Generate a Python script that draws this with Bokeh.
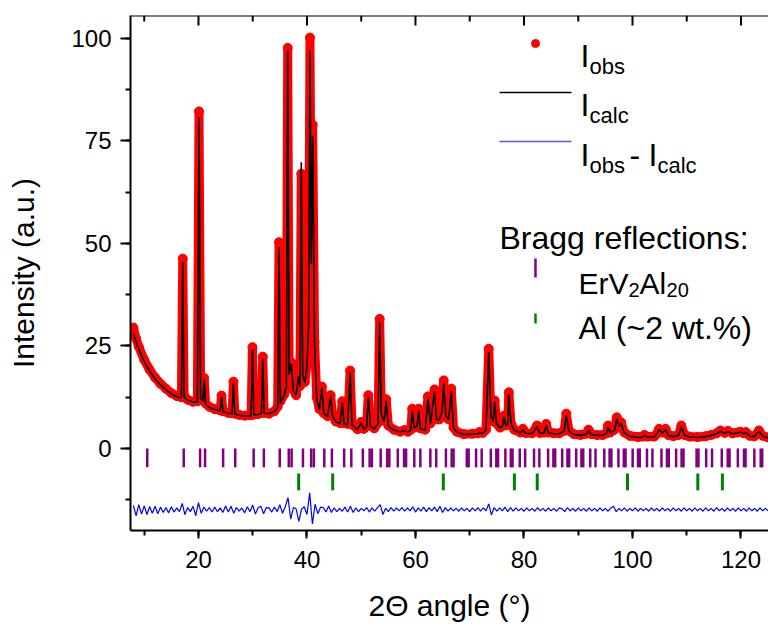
from bokeh.plotting import figure
from bokeh.models import Range1d, SingleIntervalTicker, Label, Span
from bokeh.embed import file_html
from bokeh.resources import INLINE

# ---------------- data ----------------
two_theta = [8.0, 8.5, 9.0, 10.0, 11.0, 12.0, 13.0, 14.0, 15.0, 16.0,
             16.85, 17.1, 17.35, 18.0, 19.0, 19.8, 20.1, 20.4, 20.8, 21.05,
             21.3, 22.0, 23.0, 24.0, 24.25, 24.5, 25.5, 26.2, 26.45, 26.7,
             27.5, 28.5, 29.7, 29.95, 30.2, 31.0, 31.6, 31.85, 32.1, 33.0,
             34.0, 34.6, 34.85, 35.1, 35.8, 36.2, 36.45, 36.7, 37.1, 37.5,
             38.0, 38.4, 38.7, 38.95, 39.2, 39.6, 40.0, 40.3, 40.55, 40.8,
             41.05, 41.4, 41.8, 42.3, 42.75, 43.1, 43.8, 44.35, 44.7, 45.3,
             46.1, 46.5, 46.85, 47.5, 47.95, 48.3, 49.3, 50.0, 50.5, 51.0,
             51.3, 51.7, 52.4, 53.1, 53.4, 53.7, 54.2, 54.6, 55.0, 56.0,
             57.2, 58.0, 58.6, 59.15, 59.4, 59.75, 60.3, 60.6, 60.9, 61.8,
             62.3, 62.75, 63.5, 63.9, 64.4, 64.9, 65.2, 65.6, 66.1, 66.6,
             67.0, 67.6, 68.9, 70.5, 71.5, 71.8, 72.4, 73.0, 73.5, 73.9,
             74.3, 74.6, 74.95, 75.6, 76.05, 76.3, 76.65, 77.0, 77.2, 77.6,
             78.2, 79.3, 79.8, 80.3, 81.5, 82.4, 82.9, 83.7, 84.1, 84.5,
             85.5, 86.5, 87.4, 87.8, 88.3, 89.2, 90.4, 91.5, 91.9, 92.4,
             93.5, 94.5, 95.2, 95.5, 95.9, 96.7, 97.1, 97.55, 97.9, 98.5,
             99.5, 101.0, 101.8, 102.2, 102.7, 104.0, 104.5, 104.9, 105.5, 106.1,
             106.6, 107.5, 108.5, 109.0, 109.6, 110.5, 112.0, 113.5, 114.5, 115.5,
             116.2, 117.0, 117.6, 118.4, 119.4, 119.9, 120.5, 120.9, 121.6, 122.5,
             123.3, 124.0, 125.0]

i_obs = [29.5, 26.8, 24.8, 21.6, 19.2, 17.3, 15.8, 14.6, 13.5, 12.8,
         12.5, 46.3, 12.8, 11.9, 11.4, 11.5, 82.2, 12.5, 11.8, 17.2,
         11.0, 10.2, 9.6, 9.3, 12.9, 9.1, 8.7, 8.6, 16.3, 8.5,
         8.2, 8.0, 8.1, 24.7, 8.3, 8.4, 8.7, 22.4, 8.7, 8.5,
         9.1, 10.2, 50.3, 11.5, 13.2, 15.3, 97.7, 18.5, 21.0, 14.2,
         13.0, 18.3, 15.2, 67.0, 18.5, 16.2, 20.5, 31.0, 100.2, 46.0,
         79.0, 26.0, 12.5, 9.6, 15.1, 8.6, 7.9, 13.0, 8.3, 6.6,
         6.2, 11.5, 6.2, 6.0, 19.0, 5.9, 4.7, 6.5, 4.8, 5.5,
         13.0, 5.6, 4.9, 6.3, 31.6, 8.8, 6.8, 12.0, 5.6, 4.6,
         4.1, 4.5, 4.1, 4.6, 9.7, 5.1, 5.6, 9.7, 4.9, 4.6,
         12.7, 6.1, 14.4, 7.1, 7.1, 9.2, 16.6, 8.2, 7.1, 14.6,
         5.1, 4.1, 3.5, 3.6, 3.7, 4.0, 3.8, 4.6, 24.3, 8.2,
         6.6, 11.7, 6.1, 5.1, 5.6, 8.0, 5.6, 6.1, 13.7, 6.1,
         4.6, 3.9, 4.8, 3.8, 3.7, 5.6, 3.8, 3.9, 6.0, 3.9,
         3.7, 3.7, 4.3, 8.5, 4.3, 3.5, 3.3, 3.6, 4.6, 3.5,
         3.3, 3.3, 3.7, 5.6, 3.9, 4.6, 7.6, 5.6, 6.4, 3.9,
         3.1, 2.8, 2.9, 3.3, 2.9, 2.9, 3.6, 4.8, 3.9, 4.8,
         3.3, 3.0, 3.3, 5.6, 3.3, 2.9, 2.8, 3.0, 3.3, 3.7,
         4.4, 3.8, 4.3, 3.7, 3.9, 4.1, 3.7, 4.0, 3.1, 3.0,
         4.4, 3.1, 2.7]

i_calc = [28.0, 26.0, 24.2, 21.2, 18.8, 17.0, 15.5, 14.3, 13.3, 12.6,
          12.3, 45.5, 12.6, 11.8, 11.3, 11.3, 80.8, 12.2, 11.5, 16.8,
          10.8, 10.0, 9.5, 9.2, 12.6, 9.0, 8.6, 8.5, 16.0, 8.4,
          8.1, 7.9, 8.0, 24.2, 8.2, 8.3, 8.6, 22.0, 8.6, 8.5,
          9.0, 10.0, 49.0, 11.0, 13.0, 15.0, 97.0, 18.0, 20.7, 14.0,
          13.0, 17.5, 15.0, 69.8, 18.0, 16.0, 20.0, 30.0, 97.0, 45.0,
          76.3, 25.0, 12.0, 9.5, 14.8, 8.5, 7.8, 12.7, 8.0, 6.5,
          6.0, 11.2, 6.0, 5.8, 18.6, 5.7, 4.6, 6.2, 4.7, 5.3,
          12.6, 5.4, 4.8, 6.0, 30.8, 8.5, 6.5, 11.6, 5.4, 4.5,
          4.0, 4.4, 4.0, 4.5, 9.2, 5.0, 5.5, 9.2, 4.8, 4.5,
          12.2, 6.0, 13.9, 7.0, 7.0, 9.0, 15.8, 8.0, 7.0, 14.0,
          5.0, 4.0, 3.4, 3.5, 3.6, 3.9, 3.7, 4.5, 23.5, 8.0,
          6.5, 11.3, 6.0, 5.0, 5.5, 7.7, 5.5, 6.0, 13.2, 6.0,
          4.5, 3.8, 4.6, 3.7, 3.6, 5.3, 3.7, 3.8, 5.7, 3.8,
          3.6, 3.6, 4.2, 8.1, 4.2, 3.4, 3.2, 3.5, 4.4, 3.4,
          3.2, 3.2, 3.6, 5.3, 3.8, 4.5, 7.2, 5.5, 6.1, 3.8,
          3.0, 2.7, 2.8, 3.2, 2.8, 2.8, 3.5, 4.6, 3.8, 4.6,
          3.2, 2.9, 3.2, 5.3, 3.2, 2.8, 2.7, 2.9, 3.2, 3.6,
          4.2, 3.7, 4.1, 3.6, 3.8, 4.0, 3.6, 3.9, 3.0, 2.9,
          4.2, 3.0, 2.6]

# difference curve (offset), sampled every 0.5 deg from 8.0 deg
diff_start = 8.0
diff_step = 0.5
i_diff = [-13.9, -16.4, -13.7, -16.0, -14.0, -16.1, -14.2, -15.8, -14.1, -15.9,
          -14.3, -15.6, -14.4, -15.7, -14.2, -15.5, -14.5, -15.4, -13.4, -16.1,
          -14.4, -15.4, -14.1, -16.4, -13.2, -15.8, -14.3, -15.3, -14.4, -15.5,
          -14.3, -15.4, -14.5, -15.6, -14.0, -15.5, -14.1, -15.8, -14.4, -15.3,
          -14.5, -15.7, -14.2, -15.4, -13.8, -16.0, -14.4, -14.1, -15.9, -14.4,
          -14.5, -15.5, -14.3, -15.4, -13.7, -15.8, -14.2, -12.0, -17.2, -14.4,
          -14.7, -17.8, -14.8, -14.2, -16.1, -10.8, -18.4, -13.6, -15.9, -14.3,
          -14.4, -15.5, -14.0, -15.6, -14.5, -15.4, -14.6, -15.3, -14.3, -15.5,
          -14.1, -15.6, -14.5, -15.4, -14.6, -15.2, -14.4, -15.5, -14.5, -15.3,
          -14.4, -13.7, -16.1, -14.6, -15.4, -14.4, -15.3, -14.5, -15.2, -14.4,
          -15.3, -14.5, -15.2, -14.2, -15.5, -14.5, -15.3, -14.3, -15.4, -14.4,
          -15.2, -14.3, -15.4, -14.1, -15.6, -14.4, -15.3, -14.5, -15.2, -14.6,
          -15.3, -14.5, -15.2, -14.6, -15.4, -14.5, -15.2, -14.4, -15.3, -14.5,
          -15.2, -13.5, -16.2, -14.4, -15.3, -14.5, -15.2, -14.3, -15.4, -14.4,
          -15.3, -14.5, -15.2, -14.6, -15.3, -14.5, -15.2, -14.6, -15.3, -14.4,
          -15.2, -14.6, -15.3, -14.5, -15.2, -14.6, -15.3, -14.5, -14.7, -15.4,
          -14.4, -15.2, -14.6, -15.3, -14.5, -15.2, -14.6, -15.3, -14.5, -15.2,
          -14.6, -15.3, -14.5, -15.2, -14.6, -15.3, -14.5, -14.1, -15.4, -14.6,
          -15.2, -14.5, -15.3, -14.6, -15.2, -14.5, -15.3, -14.6, -15.2, -14.6,
          -15.3, -14.5, -15.2, -14.6, -15.3, -14.5, -15.2, -14.6, -15.3, -14.5,
          -15.2, -14.6, -15.3, -14.5, -15.2, -14.6, -15.3, -14.5, -15.2, -14.6,
          -15.3, -14.5, -15.2, -14.6, -15.3, -14.4, -15.2, -14.6, -15.3, -14.5,
          -15.2, -14.6, -15.3, -14.5, -15.2, -14.6, -15.3, -14.5, -15.2, -14.6,
          -15.3, -14.5, -15.2, -14.6, -15.2]

bragg_erv2al20 = [10.56, 17.28, 20.30, 21.21, 24.54, 26.78, 30.17, 32.05, 34.98, 36.64,
                  37.17, 39.26, 40.77, 41.26, 43.19, 44.59, 46.85, 48.17, 50.30, 51.55,
                  51.96, 53.59, 54.78, 55.18, 56.74, 57.89, 58.27, 59.78, 60.90, 62.74,
                  63.82, 65.61, 66.67, 67.02, 69.46, 69.80, 71.17, 72.20, 73.89, 74.90,
                  75.22, 76.57, 77.57, 77.89, 79.22, 80.21, 81.85, 82.83, 84.45, 85.42,
                  85.75, 87.04, 88.01, 88.33, 89.62, 90.59, 90.92, 92.21, 93.18, 94.80,
                  95.78, 96.11, 97.41, 98.40, 98.72, 100.03, 101.02, 101.34, 102.67, 103.67,
                  105.34, 106.35, 106.68, 108.04, 109.05, 109.40, 111.81, 112.16, 113.58, 114.66,
                  116.46, 117.56, 117.89, 119.42, 120.55, 120.84, 122.46, 123.63, 123.91]
bragg_al = [38.47, 44.74, 65.13, 78.23, 82.44, 99.08, 112.04, 116.57]

x_ticks_interval = 20
y_ticks_interval = 25
top_major_ticks = [20, 40, 60, 80, 100, 120]
top_minor_ticks = [10, 30, 50, 70, 90, 110]

# ---------------- figure ----------------
FONT = "Liberation Sans"
X0, X1, Y0, Y1 = 7.47, 125.07, -20.0, 105.6
p = figure(width=768, height=628, output_backend="svg", toolbar_location=None,
           x_range=Range1d(X0, X1), y_range=Range1d(Y0, Y1),
           min_border_left=130, min_border_right=0, min_border_top=15,
           min_border_bottom=98)
p.outline_line_color = None
p.xgrid.grid_line_color = None
p.ygrid.grid_line_color = None
p.background_fill_color = "white"
p.border_fill_color = "white"

xa = p.xaxis[0]
xa.ticker = SingleIntervalTicker(interval=x_ticks_interval, num_minor_ticks=2)
ya = p.yaxis[0]
ya.ticker = SingleIntervalTicker(interval=y_ticks_interval, num_minor_ticks=2)
xa.axis_label = "2\u0398 angle (\u00b0)"
ya.axis_label = "Intensity (a.u.)"
for ax in (xa, ya):
    ax.axis_line_width = 2
    ax.major_tick_line_width = 2
    ax.minor_tick_line_width = 2
    ax.major_tick_in = 0
    ax.minor_tick_in = 0
    ax.major_label_text_font = FONT
    ax.major_label_text_font_size = "24px"
    ax.major_label_text_color = "black"
    ax.axis_label_text_font = FONT
    ax.axis_label_text_font_size = "30px"
    ax.axis_label_text_font_style = "normal"
    ax.axis_label_text_color = "black"
xa.major_tick_out = 8
xa.minor_tick_out = 5
xa.major_label_standoff = 12
xa.axis_label_standoff = 18
ya.major_tick_out = 10
ya.minor_tick_out = 5
ya.major_label_standoff = 9
ya.axis_label_standoff = 28

# top frame edge with inward ticks (the right edge is cut off in the original)
p.add_layout(Span(location=Y1, dimension="width", line_color="black", line_width=2))
px_per_y = 515.0 / (Y1 - Y0)
p.segment(x0=top_major_ticks, y0=[Y1] * len(top_major_ticks), x1=top_major_ticks,
          y1=[Y1 - 10 / px_per_y] * len(top_major_ticks), line_color="black", line_width=2)
p.segment(x0=top_minor_ticks, y0=[Y1] * len(top_minor_ticks), x1=top_minor_ticks,
          y1=[Y1 - 6 / px_per_y] * len(top_minor_ticks), line_color="black", line_width=2)

# ---------------- data glyphs ----------------
diff_x = [diff_start + diff_step * k for k in range(len(i_diff))]

p.line(two_theta, i_obs, line_color="#ff0000", line_width=9, line_join="round", line_cap="round")
p.scatter(two_theta, i_obs, size=9, fill_color="#ff0000", line_color="#ff0000")
p.line(two_theta, i_calc, line_color="black", line_width=1.6)
p.line(diff_x, i_diff, line_color="#0000ff", line_width=1.2)

p.segment(x0=bragg_erv2al20, y0=[0.0] * len(bragg_erv2al20), x1=bragg_erv2al20,
          y1=[-4.6] * len(bragg_erv2al20), line_color="#800080", line_width=2.5)
p.segment(x0=bragg_al, y0=[-6.1] * len(bragg_al), x1=bragg_al,
          y1=[-10.2] * len(bragg_al), line_color="#008000", line_width=3)

# ---------------- hand-made legend ----------------
p.scatter([82.12], [98.77], size=8, fill_color="#ff0000", line_color="#ff0000")
p.line([75.49, 88.76], [86.82, 86.82], line_color="black", line_width=1.3)
p.line([75.49, 88.76], [74.87, 74.87], line_color="#5555ff", line_width=1.3)
p.segment(x0=[82.12], y0=[46.33], x1=[82.12], y1=[41.70], line_color="#800080", line_width=2.5)
p.segment(x0=[82.12], y0=[32.92], x1=[82.12], y1=[30.48], line_color="#008000", line_width=2.5)


def lab(x, y, t, size):
    p.add_layout(Label(x=x, y=y, text=t, text_font=FONT, text_font_size=size,
                       text_color="black", text_align="left", text_baseline="alphabetic"))


lab(90.42, 95.84, "I", "32px")
lab(92.08, 93.16, "obs", "22px")
lab(90.42, 83.89, "I", "32px")
lab(92.08, 81.21, "calc", "22px")
lab(90.42, 71.70, "I", "32px")
lab(92.08, 69.01, "obs", "22px")
lab(99.45, 71.70, "-", "32px")
lab(102.95, 71.70, "I", "32px")
lab(104.61, 69.01, "calc", "22px")

lab(75.49, 51.45, "Bragg reflections:", "32px")
lab(90.05, 40.23, "ErV", "30px")
lab(99.27, 38.65, "2", "20px")
lab(101.29, 40.23, "Al", "30px")
lab(106.27, 38.65, "20", "20px")
lab(90.05, 29.50, "Al (~2 wt.%)", "32px")

open("out.html", "w").write(file_html(p, INLINE))
